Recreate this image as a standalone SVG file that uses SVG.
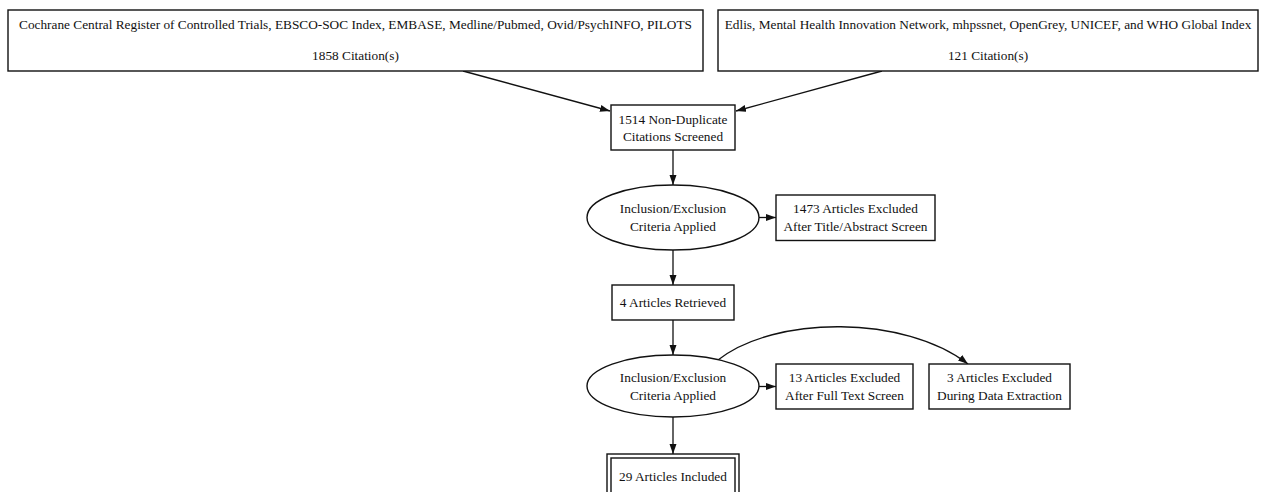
<svg xmlns="http://www.w3.org/2000/svg" width="1263" height="492" viewBox="0 0 1263 492">
<style>
.n{fill:#fff;stroke:#111;stroke-width:1.4}
.t{font-family:"Liberation Serif","Times New Roman",serif;font-size:13.3px;fill:#111;text-anchor:middle}
.e{fill:none;stroke:#111;stroke-width:1.3}
</style>
<defs>
<marker id="ah" markerUnits="userSpaceOnUse" markerWidth="11" markerHeight="8" refX="10" refY="3.5" orient="auto">
<path d="M0,0 L10,3.5 L0,7 Z" fill="#111"/>
</marker>
</defs>
<rect width="1263" height="492" fill="#fff"/>
<g id="connectors">
<path class="e" d="M463,71 L610,111" marker-end="url(#ah)"/>
<path class="e" d="M882,71 L736,111" marker-end="url(#ah)"/>
<path class="e" d="M673,150 L673,185" marker-end="url(#ah)"/>
<path class="e" d="M759,217.5 L776,217.5" marker-end="url(#ah)"/>
<path class="e" d="M673,250 L673,285" marker-end="url(#ah)"/>
<path class="e" d="M673,320 L673,355" marker-end="url(#ah)"/>
<path class="e" d="M759,386.5 L776,386.5" marker-end="url(#ah)"/>
<path class="e" d="M718,360 C775,315 905,315 968,364" marker-end="url(#ah)"/>
<path class="e" d="M673,417 L673,454" marker-end="url(#ah)"/>
</g>
<g id="src1">
<rect class="n" x="8" y="10" width="695" height="61"/>
<text class="t" x="355.5" y="29">Cochrane Central Register of Controlled Trials, EBSCO-SOC Index, EMBASE, Medline/Pubmed, Ovid/PsychINFO, PILOTS</text>
<text class="t" x="355.5" y="60">1858 Citation(s)</text>
</g>
<g id="src2">
<rect class="n" x="718" y="10" width="540" height="61"/>
<text class="t" x="988" y="29">Edlis, Mental Health Innovation Network, mhpssnet, OpenGrey, UNICEF, and WHO Global Index</text>
<text class="t" x="988" y="60">121 Citation(s)</text>
</g>
<g id="screened">
<rect class="n" x="611" y="105" width="124" height="45"/>
<text class="t" x="673" y="123.5">1514 Non-Duplicate</text>
<text class="t" x="673" y="140.5">Citations Screened</text>
</g>
<g id="criteria1">
<ellipse class="n" cx="673" cy="217.5" rx="86" ry="32.5"/>
<text class="t" x="673" y="212.5">Inclusion/Exclusion</text>
<text class="t" x="673" y="230.5">Criteria Applied</text>
</g>
<g id="excluded1473">
<rect class="n" x="776" y="195" width="159" height="45.5"/>
<text class="t" x="855.5" y="212.5">1473 Articles Excluded</text>
<text class="t" x="855.5" y="230.5">After Title/Abstract Screen</text>
</g>
<g id="retrieved">
<rect class="n" x="612" y="285" width="122" height="35"/>
<text class="t" x="673" y="307">4 Articles Retrieved</text>
</g>
<g id="criteria2">
<ellipse class="n" cx="673" cy="386" rx="86" ry="31"/>
<text class="t" x="673" y="381.5">Inclusion/Exclusion</text>
<text class="t" x="673" y="399.5">Criteria Applied</text>
</g>
<g id="excluded13">
<rect class="n" x="776" y="364" width="137" height="45"/>
<text class="t" x="844.5" y="382">13 Articles Excluded</text>
<text class="t" x="844.5" y="400">After Full Text Screen</text>
</g>
<g id="excluded3">
<rect class="n" x="929" y="364" width="141" height="45"/>
<text class="t" x="999.5" y="382">3 Articles Excluded</text>
<text class="t" x="999.5" y="400">During Data Extraction</text>
</g>
<g id="included">
<rect class="n" x="607" y="454" width="132" height="46"/>
<rect class="n" x="611" y="458" width="124" height="38"/>
<text class="t" x="673" y="480.5">29 Articles Included</text>
</g>
</svg>
